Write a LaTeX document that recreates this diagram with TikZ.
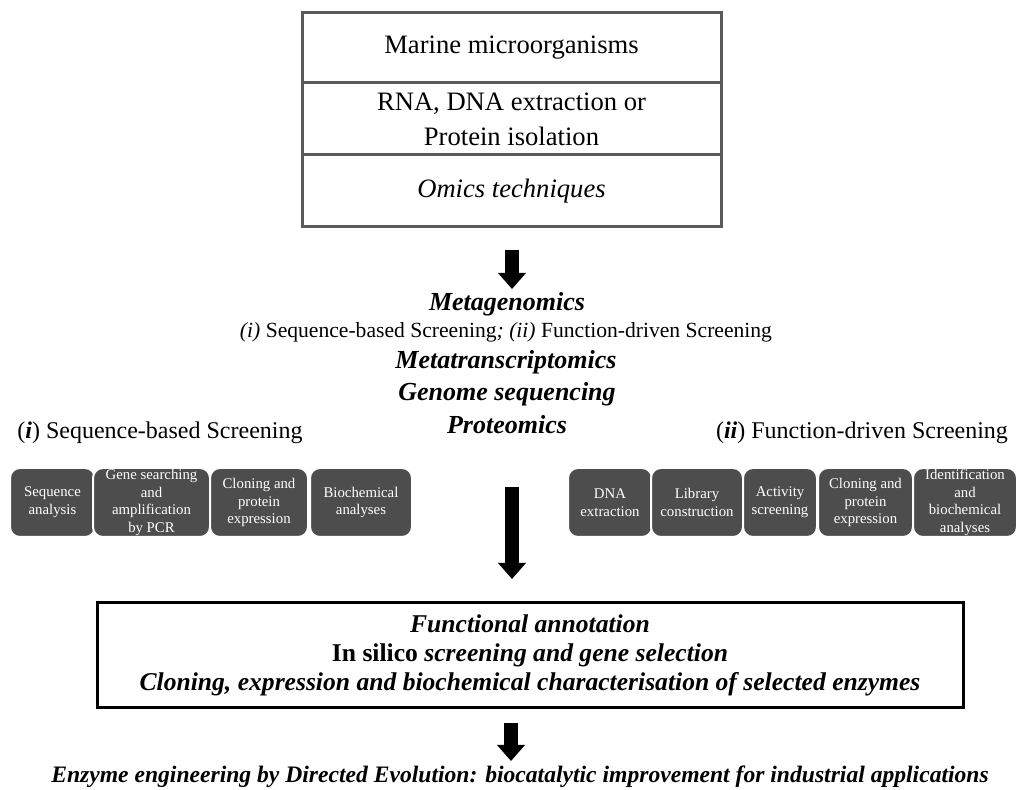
\documentclass[tikz,border=0pt]{standalone}
\usepackage{fontspec}
\setmainfont{Liberation Serif}
\usetikzlibrary{arrows.meta}
\definecolor{boxgray}{HTML}{4D4D4D}
\definecolor{framegray}{HTML}{5A5A5A}
\begin{document}
\begin{tikzpicture}[x=0.5pt,y=-0.5pt,
  cell/.style={draw=framegray,line width=1.5pt,minimum width=209.5pt,inner sep=0pt,align=center,font=\fontsize{13.3}{17.5}\selectfont},
  stepbox/.style={fill=boxgray,draw=white,line width=1pt,rounded corners=5pt,text=white,align=center,inner sep=0pt,minimum height=34.5pt,font=\fontsize{7.4}{8.8}\selectfont},
  bw/.style={minimum width=#1*0.5pt},
  title/.style={inner sep=0pt,font=\fontsize{13}{15}\selectfont\bfseries\itshape},
  bigarrow/.style={line width=7pt,-{Triangle[width=13.5pt,length=8pt]}}
]
\useasboundingbox (0,0) rectangle (1018,790);
% top stacked box
\node[cell,minimum height=35pt] (marine) at (511.5,48) {Marine microorganisms};
\node[cell,minimum height=36pt] (extract) at (511.5,119) {RNA, DNA extraction or\\Protein isolation};
\node[cell,minimum height=36pt] (omics) at (511.5,191) {\itshape Omics techniques};
% arrow 1
\coordinate (a1s) at (512,250);
\coordinate (a1e) at (512,289);
\draw[bigarrow] (a1s) -- (a1e);
% middle titles
\node[title] (metag) at (507,304) {Metagenomics};
\node[inner sep=0pt,font=\fontsize{10.8}{13}\selectfont] (sub) at (506,332) {\textit{(i)} Sequence-based Screening\textit{; (ii)} Function-driven Screening};
\node[title] (metat) at (506,362) {Metatranscriptomics};
\node[title] (genome) at (507,394) {Genome sequencing};
\node[title] (prot) at (507,425) {Proteomics};
\node[inner sep=0pt,font=\fontsize{12}{14}\selectfont] (lefttitle) at (160,433) {(\textbf{\textit{i}}) Sequence-based Screening};
\node[inner sep=0pt,font=\fontsize{12}{14}\selectfont] (righttitle) at (862,433) {(\textbf{\textit{ii}}) Function-driven Screening};
% left boxes
\node[stepbox,bw=85] (l1) at (52.5,502.5) {Sequence\\analysis};
\node[stepbox,bw=117] (l2) at (151.5,502.5) {Gene searching\\and\\amplification\\by PCR};
\node[stepbox,bw=98] (l3) at (259,502.5) {Cloning and\\protein\\expression};
\node[stepbox,bw=102] (l4) at (361,502.5) {Biochemical\\analyses};
% right boxes
\node[stepbox,bw=84] (r1) at (610,502.5) {DNA\\extraction};
\node[stepbox,bw=92] (r2) at (697,502.5) {Library\\construction};
\node[stepbox,bw=74] (r3) at (780,502.5) {Activity\\screening};
\node[stepbox,bw=95] (r4) at (865.5,502.5) {Cloning and\\protein\\expression};
\node[stepbox,bw=104] (r5) at (965,502.5) {Identification\\and\\biochemical\\analyses};
% arrow 2
\coordinate (a2s) at (512,487);
\coordinate (a2e) at (512,579);
\draw[bigarrow] (a2s) -- (a2e);
% bottom box
\node[draw,line width=1.5pt,minimum width=433pt,minimum height=52.5pt,inner sep=0pt,align=center,
  font=\fontsize{12.8}{14.5}\selectfont\bfseries\itshape] (func) at (530,655.5)
  {Functional annotation\\{\upshape In silico} screening and gene selection\\Cloning, expression and biochemical characterisation of selected enzymes};
% arrow 3
\coordinate (a3s) at (511,723);
\coordinate (a3e) at (511,761);
\draw[bigarrow] (a3s) -- (a3e);
\node[inner sep=0pt,font=\fontsize{11.8}{14}\selectfont\bfseries\itshape] (enz) at (520,777)
  {Enzyme engineering by Directed Evolution: biocatalytic improvement for industrial applications};
\end{tikzpicture}
\end{document}
